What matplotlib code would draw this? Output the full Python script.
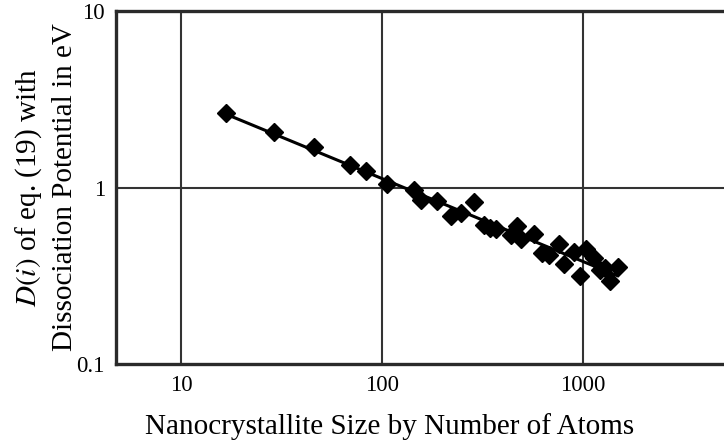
import numpy as np
import matplotlib.pyplot as plt

# cluster size (number of atoms) and D(i) values in eV
atoms = [16.7, 29.0, 45.8, 69.5, 83.4, 106.6, 144, 156.6, 188, 221, 249, 288,
         322, 346, 371, 439, 472, 494, 572, 627, 680, 763, 806, 903, 972,
         1036, 1134, 1215, 1290, 1362, 1492]
d_values = [2.65, 2.06, 1.70, 1.338, 1.248, 1.05, 0.965, 0.848, 0.84, 0.694,
            0.719, 0.826, 0.617, 0.591, 0.583, 0.539, 0.609, 0.512, 0.547,
            0.427, 0.417, 0.480, 0.371, 0.432, 0.314, 0.450, 0.400, 0.340,
            0.351, 0.294, 0.355]
x_ticks = [10, 100, 1000]
x_ticklabels = ['10', '100', '1000']
y_ticks = [0.1, 1, 10]
y_ticklabels = ['0.1', '1', '10']

plt.rcParams['font.family'] = ['Liberation Serif', 'DejaVu Serif']
plt.rcParams['mathtext.fontset'] = 'stix'

fig = plt.figure(figsize=(7.24, 4.40), dpi=100)
ax = fig.add_axes([0.1602, 0.1727, 0.8398, 0.8023])

# power-law fit in log-log space
b, a = np.polyfit(np.log10(atoms), np.log10(d_values), 1)
fit_x = np.array([min(atoms), max(atoms)])
fit_y = 10 ** (a + b * np.log10(fit_x))
ax.plot(fit_x, fit_y, color='black', lw=2.2, zorder=3)
ax.plot(atoms, d_values, linestyle='none', marker='D', ms=9.5,
        color='black', zorder=4)

ax.set_xscale('log')
ax.set_yscale('log')
ax.set_xlim(4.75, 5050)
ax.set_ylim(0.1, 10)

ax.set_xticks(x_ticks)
ax.set_xticklabels(x_ticklabels)
ax.set_yticks(y_ticks)
ax.set_yticklabels(y_ticklabels)
ax.minorticks_off()
ax.tick_params(length=0, labelsize=16.5, pad=8)

for v in x_ticks:
    ax.axvline(v, color='#333333', lw=1.5, zorder=1)
ax.axhline(1, color='#333333', lw=1.5, zorder=1)

for side in ['left', 'top', 'bottom']:
    ax.spines[side].set_linewidth(2.4)
    ax.spines[side].set_color('#2a2a2a')
ax.spines['right'].set_visible(False)

ax.set_xlabel('Nanocrystallite Size by Number of Atoms', fontsize=21,
              labelpad=12, x=0.45)
ax.set_ylabel('$D(i)$ of eq. (19) with\nDissociation Potential in eV',
              fontsize=21, labelpad=-1, linespacing=1.4)

fig.savefig('out.png', dpi=100)
